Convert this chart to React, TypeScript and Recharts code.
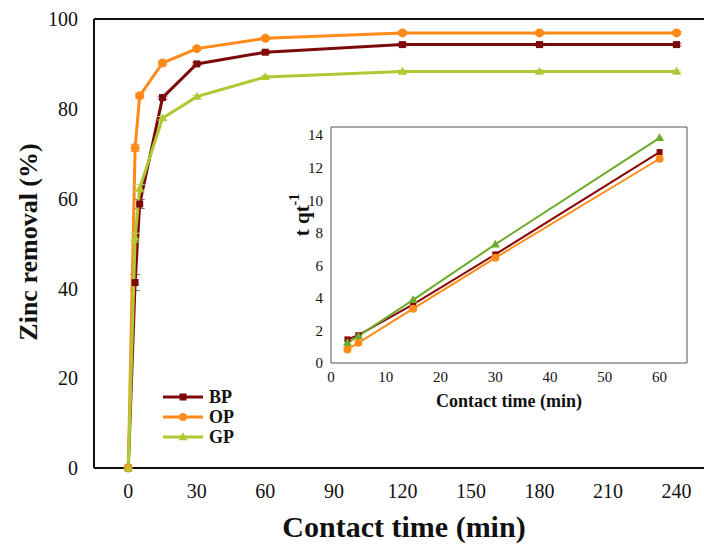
import React from 'react';
import { LineChart, Line, XAxis, YAxis, ReferenceLine, ErrorBar } from 'recharts';

// main plot: zinc removal vs contact time
const times = [0, 3, 5, 15, 30, 60, 120, 180, 240];
const bpRemoval = [0, 41.3, 58.8, 82.5, 90.0, 92.6, 94.3, 94.3, 94.3];
const opRemoval = [0, 71.3, 82.9, 90.2, 93.4, 95.7, 96.9, 96.9, 96.9];
const gpRemoval = [0, 51.3, 62.3, 77.9, 82.7, 87.1, 88.3, 88.3, 88.3];
const bpErr = [0, 1.8, 1.0, 0.3, 0.3, 0.3, 0.3, 0.3, 0.3];
const opErr = [0, 0.8, 0.6, 0.4, 0.3, 0.3, 0.3, 0.3, 0.3];
const gpErr = [0, 1.0, 0.8, 0.4, 0.3, 0.3, 0.3, 0.3, 0.3];
const xTicks = [0, 30, 60, 90, 120, 150, 180, 210, 240];
const yTicks = [0, 20, 40, 60, 80, 100];

// inset: pseudo-second-order plot t/qt
const kinTimes = [3, 5, 15, 30, 60];
const bpKin = [1.45, 1.71, 3.6, 6.67, 12.96];
const opKin = [0.83, 1.24, 3.34, 6.46, 12.55];
const gpKin = [1.24, 1.65, 3.88, 7.29, 13.83];
const insetXTicks = [0, 10, 20, 30, 40, 50, 60];
const insetYTicks = [0, 2, 4, 6, 8, 10, 12, 14];

const legendNames = ['BP', 'OP', 'GP'];

const FONT = 'Liberation Serif';
const C = {
  bp: '#7d0a0a',
  op: '#ff8a1a',
  gp: '#aec934',
  bpIn: '#8a0606',
  opIn: '#ff8c1a',
  gpIn: '#6cab2a',
};

const mainData = times.map((t, i) => ({
  t,
  bp: bpRemoval[i],
  op: opRemoval[i],
  gp: gpRemoval[i],
  bpErr: bpErr[i],
  opErr: opErr[i],
  gpErr: gpErr[i],
}));

const insetData = kinTimes.map((t, i) => ({ t, bp: bpKin[i], op: opKin[i], gp: gpKin[i] }));

const Square = (size: number, color: string) => (p: any) => {
  if (p.cx == null || p.cy == null) return <g key={p.key} />;
  return <rect key={p.key} x={p.cx - size / 2} y={p.cy - size / 2} width={size} height={size} fill={color} />;
};
const Circle = (r: number, color: string) => (p: any) => {
  if (p.cx == null || p.cy == null) return <g key={p.key} />;
  return <circle key={p.key} cx={p.cx} cy={p.cy} r={r} fill={color} />;
};
const Triangle = (s: number, color: string) => (p: any) => {
  if (p.cx == null || p.cy == null) return <g key={p.key} />;
  const h = s * 0.87;
  return (
    <path
      key={p.key}
      d={`M${p.cx},${p.cy - h * 0.6} L${p.cx + s / 2},${p.cy + h * 0.4} L${p.cx - s / 2},${p.cy + h * 0.4} Z`}
      fill={color}
    />
  );
};

const tickStyle = { fontSize: 20, fill: '#111', fontFamily: FONT };
const insetTick = { fontSize: 15, fill: '#111', fontFamily: FONT };

const Legend = () => {
  const rows = [
    { name: legendNames[0], color: C.bp, mark: Square(7, C.bp) },
    { name: legendNames[1], color: C.op, mark: Circle(4, C.op) },
    { name: legendNames[2], color: C.gp, mark: Triangle(9, C.gp) },
  ];
  return (
    <svg width={90} height={70} style={{ position: 'absolute', left: 158, top: 386 }}>
      {rows.map((r, i) => {
        const y = 11 + i * 20;
        return (
          <g key={r.name}>
            <line x1={5} x2={45} y1={y} y2={y} stroke={r.color} strokeWidth={3} />
            {r.mark({ cx: 25, cy: y, key: 'm' })}
            <text x={51} y={y + 6} fontFamily={FONT} fontWeight="bold" fontSize={18} fill="#111">
              {r.name}
            </text>
          </g>
        );
      })}
    </svg>
  );
};

export default function App() {
  return (
    <div style={{ position: 'absolute', left: 0, top: 0, width: 704, height: 544, background: '#fff' }}>
      <LineChart width={704} height={544} data={mainData} margin={{ top: 19, right: 0, bottom: 0, left: 0 }}>
        <XAxis
          dataKey="t"
          type="number"
          domain={[-15, 252]}
          allowDataOverflow
          ticks={xTicks}
          height={76}
          tickSize={0}
          tickMargin={16}
          tickLine={false}
          axisLine={{ stroke: '#111', strokeWidth: 2 }}
          tick={tickStyle}
          label={() => (
            <text x={404} y={537} textAnchor="middle" fontFamily={FONT} fontWeight="bold" fontSize={30} fill="#111">
              Contact time (min)
            </text>
          )}
        />
        <YAxis
          type="number"
          domain={[0, 100]}
          ticks={yTicks}
          width={94}
          tickSize={0}
          tickMargin={16}
          tickLine={false}
          axisLine={{ stroke: '#111', strokeWidth: 2 }}
          tick={tickStyle}
          label={() => (
            <text
              x={28}
              y={242}
              transform="rotate(-90 28 242)"
              textAnchor="middle"
              dominantBaseline="central"
              fontFamily={FONT}
              fontWeight="bold"
              fontSize={26}
              fill="#111"
            >
              Zinc removal (%)
            </text>
          )}
        />
        <ReferenceLine y={100} stroke="#111" strokeWidth={2} />
        <Line dataKey="bp" stroke={C.bp} strokeWidth={3} dot={Square(7, C.bp)} isAnimationActive={false}>
          <ErrorBar dataKey="bpErr" width={5} stroke="#a06060" strokeWidth={1} direction="y" />
        </Line>
        <Line dataKey="op" stroke={C.op} strokeWidth={3} dot={Circle(4.5, C.op)} isAnimationActive={false}>
          <ErrorBar dataKey="opErr" width={5} stroke="#f5b070" strokeWidth={1} direction="y" />
        </Line>
        <Line dataKey="gp" stroke={C.gp} strokeWidth={3} dot={Triangle(9, C.gp)} isAnimationActive={false}>
          <ErrorBar dataKey="gpErr" width={5} stroke="#c8dc80" strokeWidth={1} direction="y" />
        </Line>
      </LineChart>

      <Legend />

      <div style={{ position: 'absolute', left: 280, top: 115 }}>
        <LineChart width={420} height={300} data={insetData} margin={{ top: 12, right: 13, bottom: 0, left: 0 }}>
          <XAxis
            dataKey="t"
            type="number"
            domain={[0, 65]}
            ticks={insetXTicks}
            height={52}
            tickSize={0}
            tickMargin={8}
            tickLine={false}
            axisLine={{ stroke: '#555', strokeWidth: 1 }}
            tick={insetTick}
            label={() => (
              <text x={229} y={292} textAnchor="middle" fontFamily={FONT} fontWeight="bold" fontSize={18} fill="#111">
                Contact time (min)
              </text>
            )}
          />
          <YAxis
            type="number"
            domain={[0, 14.5]}
            ticks={insetYTicks}
            width={51}
            tickSize={0}
            tickMargin={8}
            tickLine={false}
            axisLine={{ stroke: '#555', strokeWidth: 1 }}
            tick={insetTick}
            label={() => (
              <text
                x={22}
                y={100}
                transform="rotate(-90 22 100)"
                textAnchor="middle"
                dominantBaseline="central"
                fontFamily={FONT}
                fontWeight="bold"
                fontSize={21}
                fill="#111"
              >
                t qt
                <tspan fontSize={14} dy={-8}>-1</tspan>
              </text>
            )}
          />
          <ReferenceLine y={14.5} stroke="#555" strokeWidth={1} />
          <ReferenceLine x={65} stroke="#555" strokeWidth={1} />
          <Line dataKey="bp" stroke={C.bpIn} strokeWidth={2} dot={Square(6, C.bpIn)} isAnimationActive={false} />
          <Line dataKey="op" stroke={C.opIn} strokeWidth={2} dot={Circle(4, C.opIn)} isAnimationActive={false} />
          <Line dataKey="gp" stroke={C.gpIn} strokeWidth={2} dot={Triangle(9, C.gpIn)} isAnimationActive={false} />
        </LineChart>
      </div>
    </div>
  );
}
